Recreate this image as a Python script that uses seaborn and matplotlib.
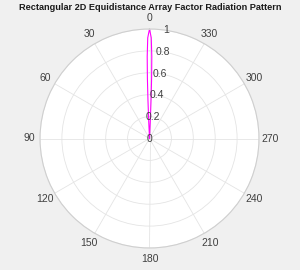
import numpy as np
import pandas as pd
import matplotlib
matplotlib.use("Agg")
import matplotlib.pyplot as plt
import seaborn as sns

# Data (main lobe of the array factor)
theta_deg = [-2.9, -2.6, -2.3, -2.0, -1.6, -1.0, 0.0, 1.0, 1.6, 2.0, 2.3, 2.6, 2.9]
af_mag = [0.0, 0.15, 0.35, 0.55, 0.75, 0.92, 1.0, 0.92, 0.75, 0.55, 0.35, 0.15, 0.0]
angle_ticks = list(range(0, 360, 30))
angle_labels = [str(a) for a in angle_ticks]
r_ticks = [0, 0.2, 0.4, 0.6, 0.8, 1.0]
r_labels = ["0", "0.2", "0.4", "0.6", "0.8", "1"]
title = "Rectangular 2D Equidistance Array Factor Radiation Pattern"

sns.set_theme(style="white")
plt.rcParams['font.family'] = ['Liberation Sans', 'DejaVu Sans']

df = pd.DataFrame({"theta": np.deg2rad(theta_deg), "r": af_mag})

fig = plt.figure(figsize=(3.0, 2.7), dpi=100, facecolor="#f0f0f0")
ax = fig.add_axes([40/300, 22/270, 219/300, 219/270], projection="polar")
ax.set_facecolor("white")
ax.set_theta_zero_location("N")
ax.set_theta_direction(1)

sns.lineplot(data=df, x="theta", y="r", ax=ax, sort=False, estimator=None,
             color="#ff00ff", linewidth=0.8)

ax.set_ylim(0, 1)
ax.set_xticks(np.deg2rad(angle_ticks))
ax.set_xticklabels([])
ax.set_yticks(r_ticks)
ax.set_yticklabels([])
ax.grid(True, color="#e4e4e4", linewidth=0.6)
ax.spines['polar'].set_color("#cfcfcf")
ax.spines['polar'].set_linewidth(0.8)
ax.set_xlabel("")
ax.set_ylabel("")

txt_color = "#404040"
for a, lab in zip(angle_ticks, angle_labels):
    ax.text(np.deg2rad(a), 1.1, lab, ha="center", va="center", fontsize=7.5,
            color=txt_color, clip_on=False)
for rv, lab in zip(r_ticks, r_labels):
    ang = 0.0 if rv == 0 else np.deg2rad(-9)
    ax.text(ang, rv, lab, ha="center", va="center", fontsize=7.5,
            color=txt_color, clip_on=False)

fig.text(0.5, 1 - 8/270, title, ha="center", va="center", fontsize=6.6,
         fontweight="bold", color="#1a1a1a")
fig.savefig("out.png", dpi=100, facecolor=fig.get_facecolor())
